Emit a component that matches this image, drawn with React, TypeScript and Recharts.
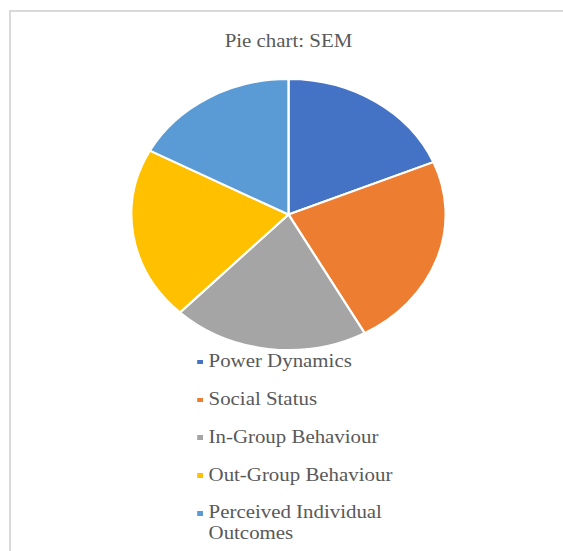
import { PieChart, Pie, Cell, Legend } from 'recharts';

const categories = [
  'Power Dynamics',
  'Social Status',
  'In-Group Behaviour',
  'Out-Group Behaviour',
  'Perceived Individual Outcomes',
];
const shares = [18.7, 23.3, 20.2, 20.7, 17.2];
const colors = ['#4472C4', '#ED7D31', '#A5A5A5', '#FFC000', '#5B9BD5'];

const data = categories.map((name, i) => ({ name, value: shares[i] }));

// the reference is stretched sideways, text and pie alike
const STRETCH = 1.16;
const FONT = '"Liberation Serif", "Times New Roman", serif';

const LegendList = ({ payload }: any) => {
  // keep the series order (recharts sorts legend items by name otherwise)
  const items = [...(payload || [])].sort(
    (a: any, b: any) => categories.indexOf(a.value) - categories.indexOf(b.value)
  );
  return (
    <div style={{ fontFamily: FONT, fontSize: 18, lineHeight: '21px', color: '#595959' }}>
      {items.map((entry: any, index: number) => (
        <div key={`item-${index}`} style={{ display: 'flex', alignItems: 'flex-start', marginBottom: 16.8 }}>
          <span
            style={{
              display: 'inline-block',
              width: 5,
              height: 4.5,
              marginTop: 8.6,
              marginRight: 5.2,
              background: entry.color,
              flex: 'none',
            }}
          />
          <span style={{ width: 185 }}>{entry.value}</span>
        </div>
      ))}
    </div>
  );
};

const App = () => {
  return (
    <div style={{ position: 'fixed', left: 0, top: 0, width: 563, height: 551, overflow: 'hidden', background: '#fff' }}>
      <style>{'html, body { overflow: hidden; }'}</style>
      <div
        style={{
          position: 'absolute',
          left: 9,
          top: 10,
          width: 600,
          height: 600,
          borderTop: '2px solid #D9D9D9',
          borderLeft: '2px solid #D9D9D9',
        }}
      />
      <div
        style={{
          position: 'absolute',
          left: 0,
          top: 0,
          width: 485,
          height: 551,
          transform: `scaleX(${STRETCH})`,
          transformOrigin: '0 0',
        }}
      >
        <div
          style={{
            position: 'absolute',
            left: 0,
            top: 31.3,
            width: 497.4,
            textAlign: 'center',
            fontFamily: FONT,
            fontSize: 18,
            lineHeight: '20px',
            color: '#595959',
          }}
        >
          Pie chart: SEM
        </div>
        <PieChart width={485} height={551} margin={{ top: 0, right: 0, bottom: 0, left: 0 }}>
          <Pie
            data={data}
            dataKey="value"
            nameKey="name"
            cx={248.7}
            cy={214.5}
            outerRadius={135.5}
            startAngle={90}
            endAngle={-270}
            stroke="#FFFFFF"
            strokeWidth={2}
            isAnimationActive={false}
          >
            {data.map((entry, index) => (
              <Cell key={`cell-${index}`} fill={colors[index]} />
            ))}
          </Pie>
          <Legend
            layout="vertical"
            content={<LegendList />}
            wrapperStyle={{ position: 'absolute', top: 351.3, left: 169.6, width: 230 }}
          />
        </PieChart>
      </div>
    </div>
  );
};

export default App;
